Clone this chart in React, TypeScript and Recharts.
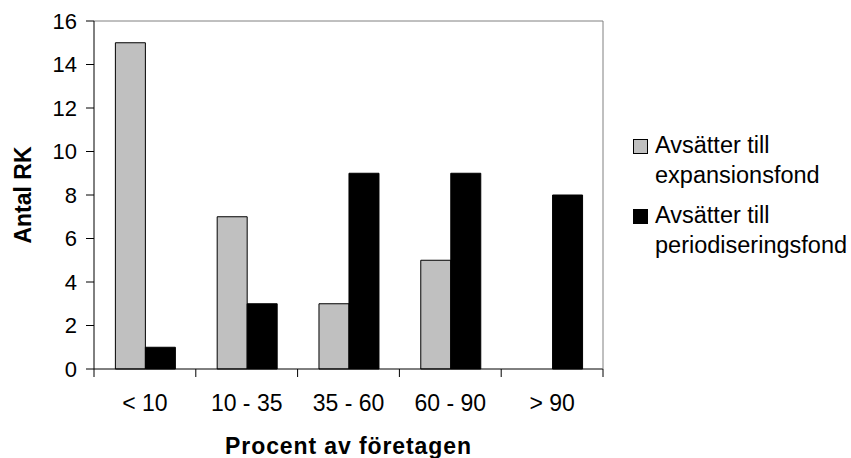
import React from 'react';
import { BarChart, Bar, XAxis, YAxis, ReferenceLine, Legend } from 'recharts';

const categories = ['< 10', '10 - 35', '35 - 60', '60 - 90', '> 90'];
const expansionsfond = [15, 7, 3, 5, 0];
const periodiseringsfond = [1, 3, 9, 9, 8];
const yTicks = [0, 2, 4, 6, 8, 10, 12, 14, 16];
const seriesNames = ['Avsätter till expansionsfond', 'Avsätter till periodiseringsfond'];

const data = categories.map((c, i) => ({
  cat: c,
  exp: expansionsfond[i],
  per: periodiseringsfond[i],
}));

const FONT = '"Liberation Sans", Arial, sans-serif';

const legendItems = [
  { lines: ['Avsätter till', 'expansionsfond'], color: '#C0C0C0' },
  { lines: ['Avsätter till', 'periodiseringsfond'], color: '#000000' },
];

const LegendContent = () => (
  <div style={{ fontFamily: FONT, fontSize: 23.5, lineHeight: '30px', color: '#000' }}>
    {legendItems.map((it, i) => (
      <div key={i} style={{ position: 'relative', paddingLeft: 22, marginBottom: 10 }}>
        <div
          style={{
            position: 'absolute',
            left: 0,
            top: 9,
            width: 13,
            height: 13,
            background: it.color,
            border: '1px solid #000',
          }}
        />
        {it.lines.map((l, j) => (
          <div key={j} style={{ whiteSpace: 'nowrap' }}>{l}</div>
        ))}
      </div>
    ))}
  </div>
);

const CatTick = (props: any) => {
  const { x, y, payload, index } = props;
  const off = payload && typeof payload.offset === 'number' && payload.offset > 0 ? payload.offset : 50.9;
  const last = index === categories.length - 1;
  return (
    <g>
      <line x1={x - off} y1={y} x2={x - off} y2={y + 8} stroke="#000" />
      {last && <line x1={x + off} y1={y} x2={x + off} y2={y + 8} stroke="#000" />}
      <text
        x={x}
        y={y + 26}
        dy="0.71em"
        textAnchor="middle"
        fontFamily={FONT}
        fontSize={23}
        fill="#000"
      >
        {payload.value}
      </text>
    </g>
  );
};

export default function App() {
  return (
    <div style={{ position: 'absolute', left: 0, top: 0, width: 851, height: 458, background: '#fff' }}>
      <BarChart
        width={851}
        height={458}
        data={data}
        margin={{ top: 21, right: 247, bottom: 0, left: 0 }}
        barCategoryGap="21%"
        barGap={0}
      >
        <XAxis
          dataKey="cat"
          height={89}
          axisLine={{ stroke: '#000' }}
          tickLine={false}
          tickSize={0}
          tickMargin={0}
          interval={0}
          tick={<CatTick />}
          label={{
            content: (props: any) => {
              const vb = props.viewBox || {};
              return (
                <text
                  x={vb.x + vb.width / 2}
                  y={vb.y + 85}
                  textAnchor="middle"
                  fontFamily={FONT}
                  fontSize={23}
                  fontWeight="bold"
                  letterSpacing={0.9}
                  fill="#000"
                >
                  Procent av företagen
                </text>
              );
            },
          }}
        />
        <YAxis
          width={94}
          domain={[0, 16]}
          ticks={yTicks}
          interval={0}
          tickSize={8}
          tickMargin={9}
          stroke="#000"
          tick={{ fontFamily: FONT, fontSize: 22, fill: '#000' }}
          label={{
            content: (props: any) => {
              const vb = props.viewBox || {};
              const cx = vb.x + 23;
              const cy = vb.y + vb.height / 2;
              return (
                <text
                  x={cx}
                  y={cy}
                  transform={`rotate(-90 ${cx} ${cy})`}
                  textAnchor="middle"
                  dominantBaseline="central"
                  fontFamily={FONT}
                  fontSize={23}
                  fontWeight="bold"
                  fill="#000"
                >
                  Antal RK
                </text>
              );
            },
          }}
        />
        <YAxis
          yAxisId="border"
          orientation="right"
          width={1}
          domain={[0, 16]}
          tick={() => <g />}
          tickLine={false}
          axisLine={{ stroke: '#808080' }}
        />
        <ReferenceLine y={16} stroke="#808080" />
        <Bar dataKey="exp" name={seriesNames[0]} fill="#C0C0C0" stroke="#000" strokeWidth={1} isAnimationActive={false} />
        <Bar dataKey="per" name={seriesNames[1]} fill="#000000" stroke="#000" strokeWidth={1} isAnimationActive={false} />
        <Legend
          layout="vertical"
          align="center"
          verticalAlign="middle"
          content={<LegendContent />}
          wrapperStyle={{ left: 633, top: 130, width: 220, height: 'auto' }}
        />
      </BarChart>
    </div>
  );
}
